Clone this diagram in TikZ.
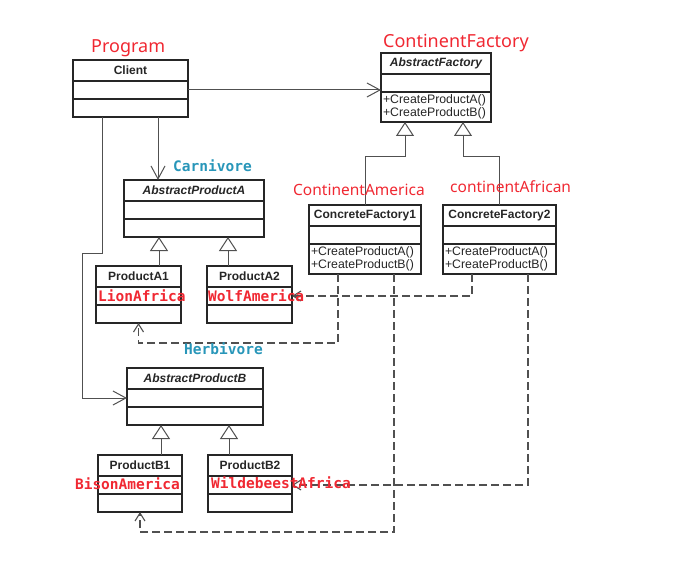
\documentclass[tikz,border=0pt]{standalone}
\usepackage{fontspec}
\setmainfont{Liberation Sans}
\newfontfamily\notefont{Noto Sans}
\newfontfamily\codefont{DejaVu Sans Mono}
\usetikzlibrary{positioning,arrows.meta}
\definecolor{notered}{RGB}{240,40,50}
\definecolor{noteblue}{RGB}{40,150,185}
\definecolor{linegray}{RGB}{80,80,80}

\begin{document}
\begin{tikzpicture}[
    x=1pt,
    y=-1pt,
    node distance=0pt,
    box/.style={
        rectangle,
        draw=black!85,
        line width=1.1pt,
        inner sep=0pt,
        outer sep=0pt,
        text=black!85
    },
    head/.style={
        box,
        anchor=north west,
        minimum height=21pt,
        font=\fontsize{12}{13}\selectfont\bfseries
    },
    abshead/.style={
        head,
        font=\fontsize{12}{13}\selectfont\bfseries\itshape
    },
    attr/.style={
        box,
        minimum height=18pt
    },
    meth/.style={
        box,
        minimum height=30pt,
        inner xsep=2pt,
        align=left,
        font=\fontsize{12.3}{13}\selectfont
    },
    assoc/.style={
        draw,
        -{Straight Barb[length=13pt,width=14pt]},
        line width=1pt,
        color=linegray
    },
    inherit/.style={
        draw,
        -{Triangle[open,length=14pt,width=18pt,fill=white]},
        line width=1pt,
        color=linegray
    },
    dep/.style={
        draw,
        -{Straight Barb[length=8pt,width=10pt]},
        dash pattern=on 8pt off 4pt,
        line width=1.1pt,
        color=linegray
    },
    note/.style={
        text=notered,
        inner sep=0pt,
        anchor=base west,
        font=\notefont\fontsize{15.5}{17}\selectfont
    },
    bignote/.style={
        note,
        font=\notefont\fontsize{18}{20}\selectfont
    },
    tag/.style={
        text=noteblue,
        inner sep=0pt,
        anchor=base west,
        font=\codefont\bfseries\fontsize{14.5}{16}\selectfont
    },
    animal/.style={
        text=notered,
        inner sep=0pt,
        font=\codefont\bfseries\fontsize{14.5}{16}\selectfont
    }
]
    \useasboundingbox (0,0) rectangle (696,564);

    % Classes
    \node [head, minimum width=115pt] (client) at (73,60) {Client};
    \node [attr, minimum width=115pt, below=of client] (clientA) {};
    \node [attr, minimum width=115pt, below=of clientA] (clientB) {};

    \node [abshead, minimum width=110pt] (af) at (381,53) {AbstractFactory};
    \node [attr, minimum width=110pt, below=of af] (afA) {};
    \node [meth, text width=106pt, below=of afA] (afM) {+CreateProductA()\\+CreateProductB()};

    \node [head, minimum width=112pt] (cf1) at (309,205) {ConcreteFactory1};
    \node [attr, minimum width=112pt, below=of cf1] (cf1A) {};
    \node [meth, text width=108pt, below=of cf1A] (cf1M) {+CreateProductA()\\+CreateProductB()};

    \node [head, minimum width=113pt] (cf2) at (443,205) {ConcreteFactory2};
    \node [attr, minimum width=113pt, below=of cf2] (cf2A) {};
    \node [meth, text width=109pt, below=of cf2A] (cf2M) {+CreateProductA()\\+CreateProductB()};

    \node [abshead, minimum width=140pt] (apa) at (124,180) {AbstractProductA};
    \node [attr, minimum width=140pt, below=of apa] (apaA) {};
    \node [attr, minimum width=140pt, below=of apaA] (apaB) {};

    \node [head, minimum width=85pt] (pa1) at (96,266) {ProductA1};
    \node [attr, minimum width=85pt, below=of pa1] (pa1A) {};
    \node [attr, minimum width=85pt, below=of pa1A] (pa1B) {};

    \node [head, minimum width=85pt] (pa2) at (207,266) {ProductA2};
    \node [attr, minimum width=85pt, below=of pa2] (pa2A) {};
    \node [attr, minimum width=85pt, below=of pa2A] (pa2B) {};

    \node [abshead, minimum width=136pt] (apb) at (127,368) {AbstractProductB};
    \node [attr, minimum width=136pt, below=of apb] (apbA) {};
    \node [attr, minimum width=136pt, below=of apbA] (apbB) {};

    \node [head, minimum width=84pt] (pb1) at (98,455) {ProductB1};
    \node [attr, minimum width=84pt, below=of pb1] (pb1A) {};
    \node [attr, minimum width=84pt, below=of pb1A] (pb1B) {};

    \node [head, minimum width=84pt] (pb2) at (208,455) {ProductB2};
    \node [attr, minimum width=84pt, below=of pb2] (pb2A) {};
    \node [attr, minimum width=84pt, below=of pb2A] (pb2B) {};

    % Associations
    \path [assoc] (clientA.east) -- (clientA.east -| af.west);
    \path [assoc] ([xshift=27.5pt]clientB.south) -- ([xshift=27.5pt]clientB.south |- apa.north);
    \path [assoc] ([xshift=-28.5pt]clientB.south) -- ++(0,136) -- ++(-20,0) |- (apbA.west);

    % Inheritance
    \path [inherit] (cf1.north) -- ++(0,-48) -| ([xshift=-31pt]afM.south);
    \path [inherit] (cf2.north) -- ++(0,-48) -| ([xshift=27pt]afM.south);
    \path [inherit] ([xshift=-35pt]apaB.south |- pa1.north) -- ([xshift=-35pt]apaB.south);
    \path [inherit] ([xshift=34pt]apaB.south |- pa2.north) -- ([xshift=34pt]apaB.south);
    \path [inherit] ([xshift=-34pt]apbB.south |- pb1.north) -- ([xshift=-34pt]apbB.south);
    \path [inherit] ([xshift=34pt]apbB.south |- pb2.north) -- ([xshift=34pt]apbB.south);

    % Creates (dashed)
    \path [dep] ([xshift=-27pt]cf1M.south) -- ++(0,69) -| (pa1B.south);
    \path [dep] ([xshift=29pt]cf1M.south) -- ++(0,258) -| (pb1B.south);
    \path [dep] ([xshift=-27.5pt]cf2M.south) |- (pa2A.east);
    \path [dep] ([xshift=28.5pt]cf2M.south) |- (pb2A.east);

    % Notes
    \node [bignote] (program) at (91,53) {Program};
    \node [bignote] (continent) at (383,48) {ContinentFactory};
    \node [note] (america) at (293,196) {ContinentAmerica};
    \node [note] (african) at (450,193) {continentAfrican};
    \node [tag] (carnivore) at (173,172) {Carnivore};
    \node [tag] (herbivore) at (184,354) {Herbivore};
    \node [animal, anchor=base west] (lion) at ([xshift=2pt,yshift=-5.5pt]pa1A.west) {LionAfrica};
    \node [animal, anchor=base west] (wolf) at ([xshift=1pt,yshift=-5.5pt]pa2A.west) {WolfAmerica};
    \node [animal, anchor=base east] (bison) at ([xshift=-2pt,yshift=-4pt]pb1A.east) {BisonAmerica};
    \node [animal, anchor=base west] (gnu) at ([xshift=3pt,yshift=-3.5pt]pb2A.west) {WildebeestAfrica};

\end{tikzpicture}
\end{document}
